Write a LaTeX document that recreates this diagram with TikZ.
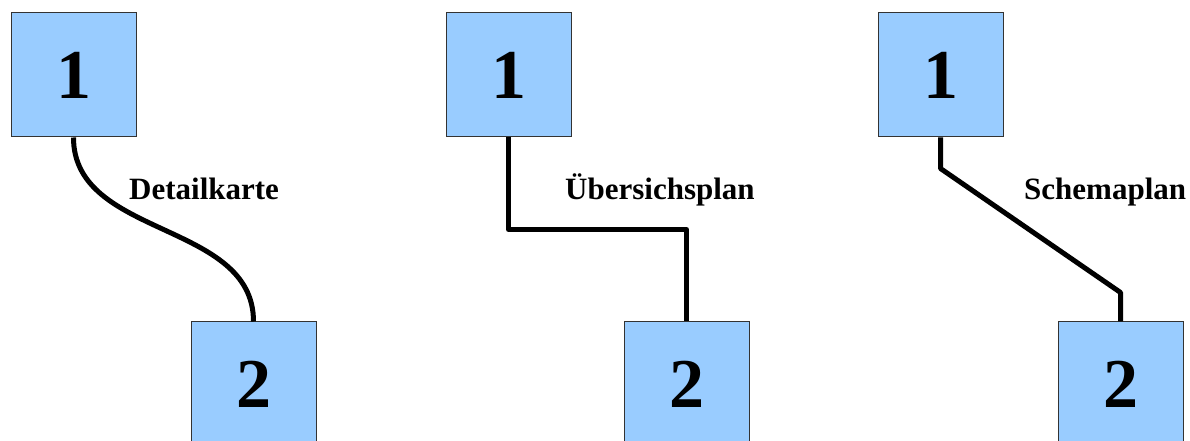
\documentclass[tikz,border=0pt]{standalone}
\usepackage{fontspec}
\setmainfont{Liberation Serif}
\usetikzlibrary{positioning}
\usetikzlibrary{calc}
\definecolor{boxblue}{HTML}{99CCFF}
\tikzset{
  station/.style={shape=rectangle,draw=black!80,line width=1pt,fill=boxblue,
    minimum width=125pt,minimum height=124pt,inner sep=0pt,
    font=\fontsize{70}{70}\selectfont\bfseries},
  wire/.style={draw=black,line width=5pt,line join=round},
  mapname/.style={anchor=base west,inner sep=0pt,
    font=\fontsize{31}{31}\selectfont\bfseries}
}

\begin{document}
\begin{tikzpicture}[x=1pt,y=1pt,node distance=184pt and 54pt]
    \useasboundingbox (0,0) rectangle (1190,441);
    \clip (0,0) rectangle (1190,441);
    % detail map: smooth curve
    \node[station] (d1) at (73.5,366) {1};
    \node[station,below right=of d1] (d2) {2};
    \draw[wire] (d1.south) to[out=-90,in=90] (d2.north);
    \node[mapname] (dname) at (129,241) {Detailkarte};
    % overview: right angles
    \node[station] (u1) at (508.5,366) {1};
    \node[station,below right=184pt and 52pt of u1] (u2) {2};
    \coordinate (umid) at ($(u1.south)!.5!(u2.north)$);
    \draw[wire] (u1.south) |- (umid) -| (u2.north);
    \node[mapname] (uname) at (565,241) {Übersichsplan};
    % schematic: straight with a slant
    \node[station] (s1) at (940.5,366) {1};
    \node[station,below right=of s1] (s2) {2};
    \coordinate (sa) at ($(s1.south)+(0,-31)$);
    \coordinate (sb) at ($(s2.north)+(0,29)$);
    \draw[wire] (s1.south) -- (sa) -- (sb) -- (s2.north);
    \node[mapname] (sname) at (1024,241) {Schemaplan};
\end{tikzpicture}
\end{document}
